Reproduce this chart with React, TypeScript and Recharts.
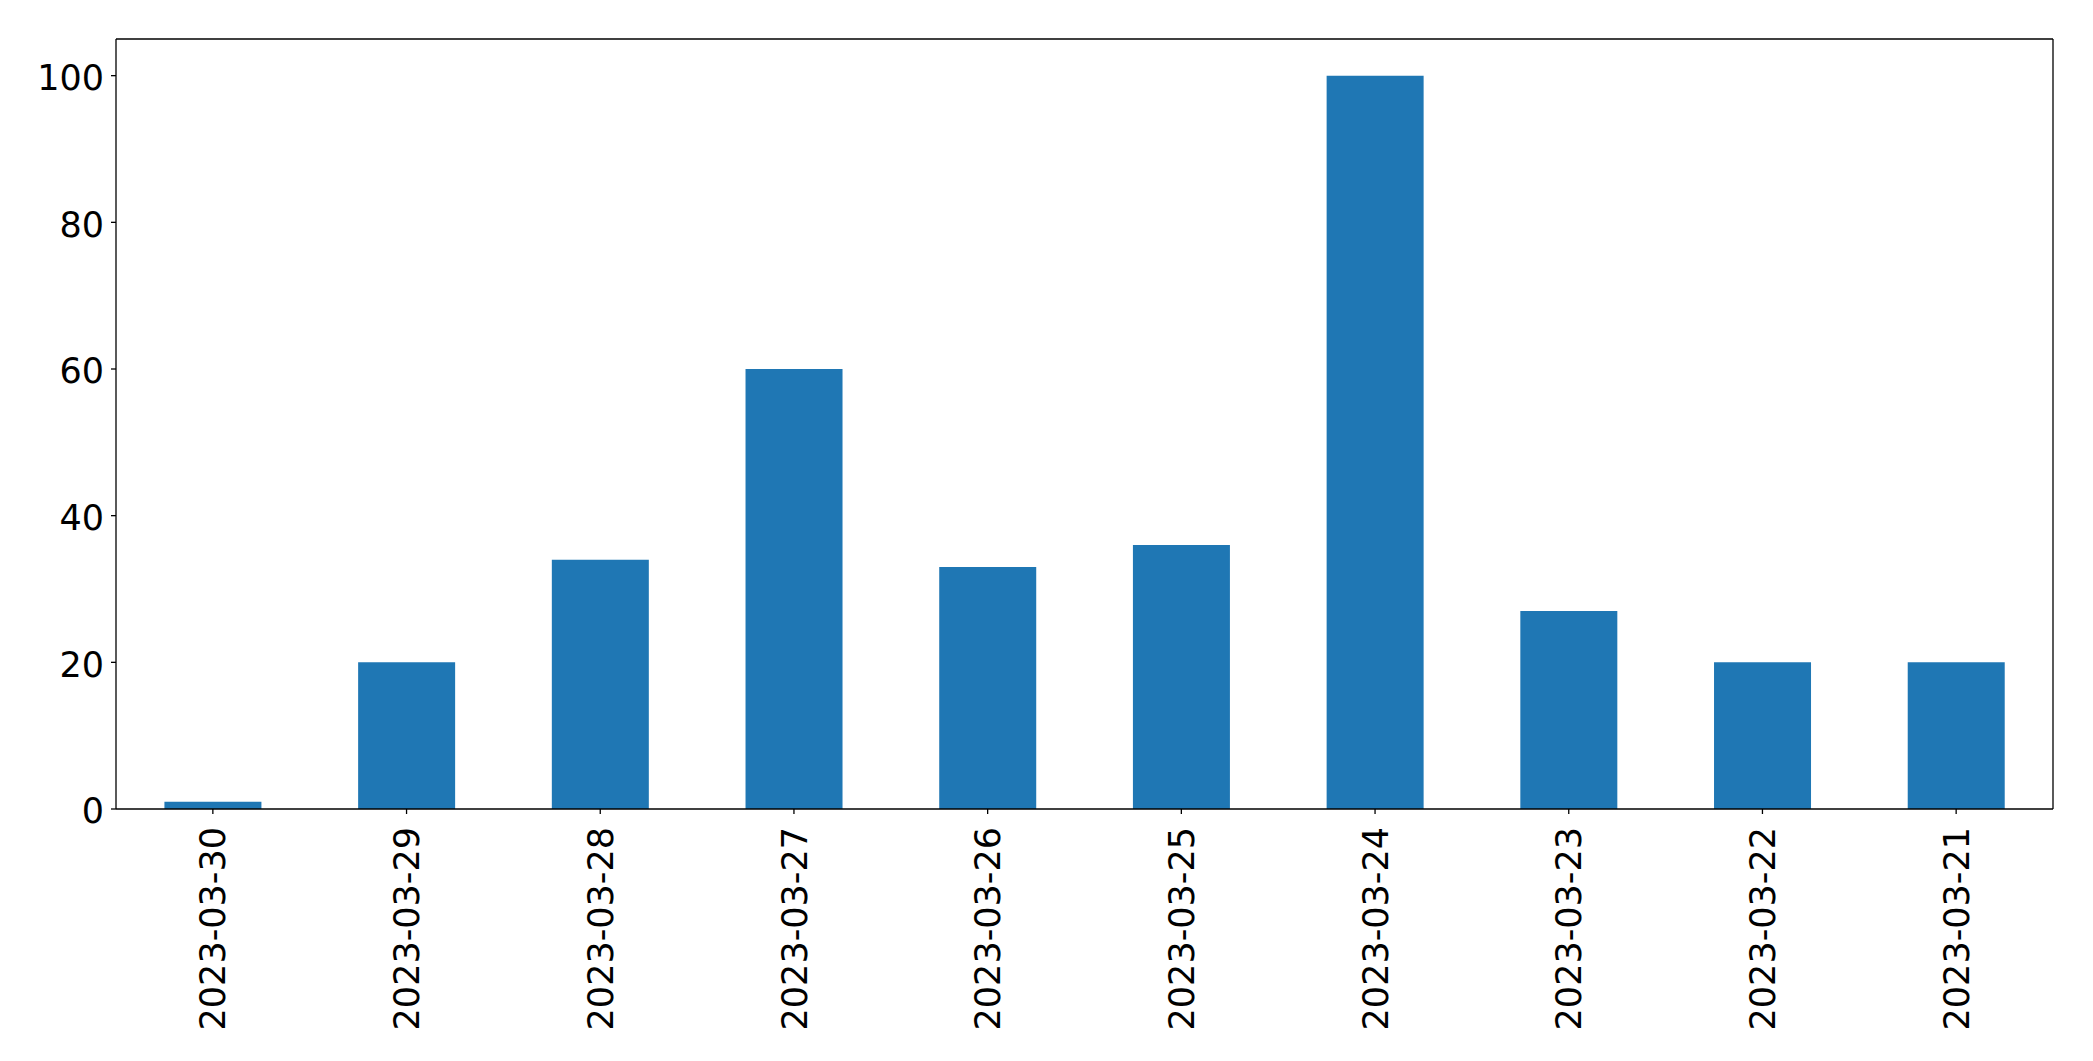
import React from "react";
import { BarChart, Bar, XAxis, YAxis } from "recharts";

const dates = [
  "2023-03-30",
  "2023-03-29",
  "2023-03-28",
  "2023-03-27",
  "2023-03-26",
  "2023-03-25",
  "2023-03-24",
  "2023-03-23",
  "2023-03-22",
  "2023-03-21",
];
const counts = [1, 20, 34, 60, 33, 36, 100, 27, 20, 20];
const yTicks = [0, 20, 40, 60, 80, 100];

const data = dates.map((date, i) => ({ date, count: counts[i] }));

const FONT = "'DejaVu Sans', sans-serif";

const RotatedTick = ({ x, y, payload }: any) => (
  <text
    x={x}
    y={y}
    transform={`rotate(-90, ${x}, ${y})`}
    textAnchor="end"
    dy="0.36em"
    fill="#000"
    fontSize={35}
    fontFamily={FONT}
  >
    {payload.value}
  </text>
);

export default function App() {
  return (
    <div style={{ position: "absolute", left: 0, top: 0, background: "#fff" }}>
      <BarChart
        width={2093}
        height={1061}
        data={data}
        margin={{ top: 38, right: 39, left: 0, bottom: 0 }}
        barCategoryGap="25%"
      >
        <XAxis
          dataKey="date"
          height={252}
          interval={0}
          tickSize={5}
          tickMargin={13}
          tick={<RotatedTick />}
          axisLine={{ stroke: "#000", strokeWidth: 1.3 }}
          tickLine={{ stroke: "#000", strokeWidth: 1.3 }}
        />
        <XAxis
          xAxisId="top"
          dataKey="date"
          orientation="top"
          height={1}
          tick={false}
          tickLine={false}
          axisLine={{ stroke: "#000", strokeWidth: 1.3 }}
        />
        <YAxis
          width={116}
          domain={[0, 105]}
          ticks={yTicks}
          tickSize={5}
          tickMargin={7}
          tick={{ fill: "#000", fontSize: 35, fontFamily: FONT, dy: 2 }}
          axisLine={{ stroke: "#000", strokeWidth: 1.3 }}
          tickLine={{ stroke: "#000", strokeWidth: 1.3 }}
        />
        <YAxis
          yAxisId="right"
          orientation="right"
          width={1}
          domain={[0, 105]}
          tick={false}
          tickLine={false}
          axisLine={{ stroke: "#000", strokeWidth: 1.3 }}
        />
        <Bar dataKey="count" fill="#1f77b4" isAnimationActive={false} />
      </BarChart>
    </div>
  );
}
